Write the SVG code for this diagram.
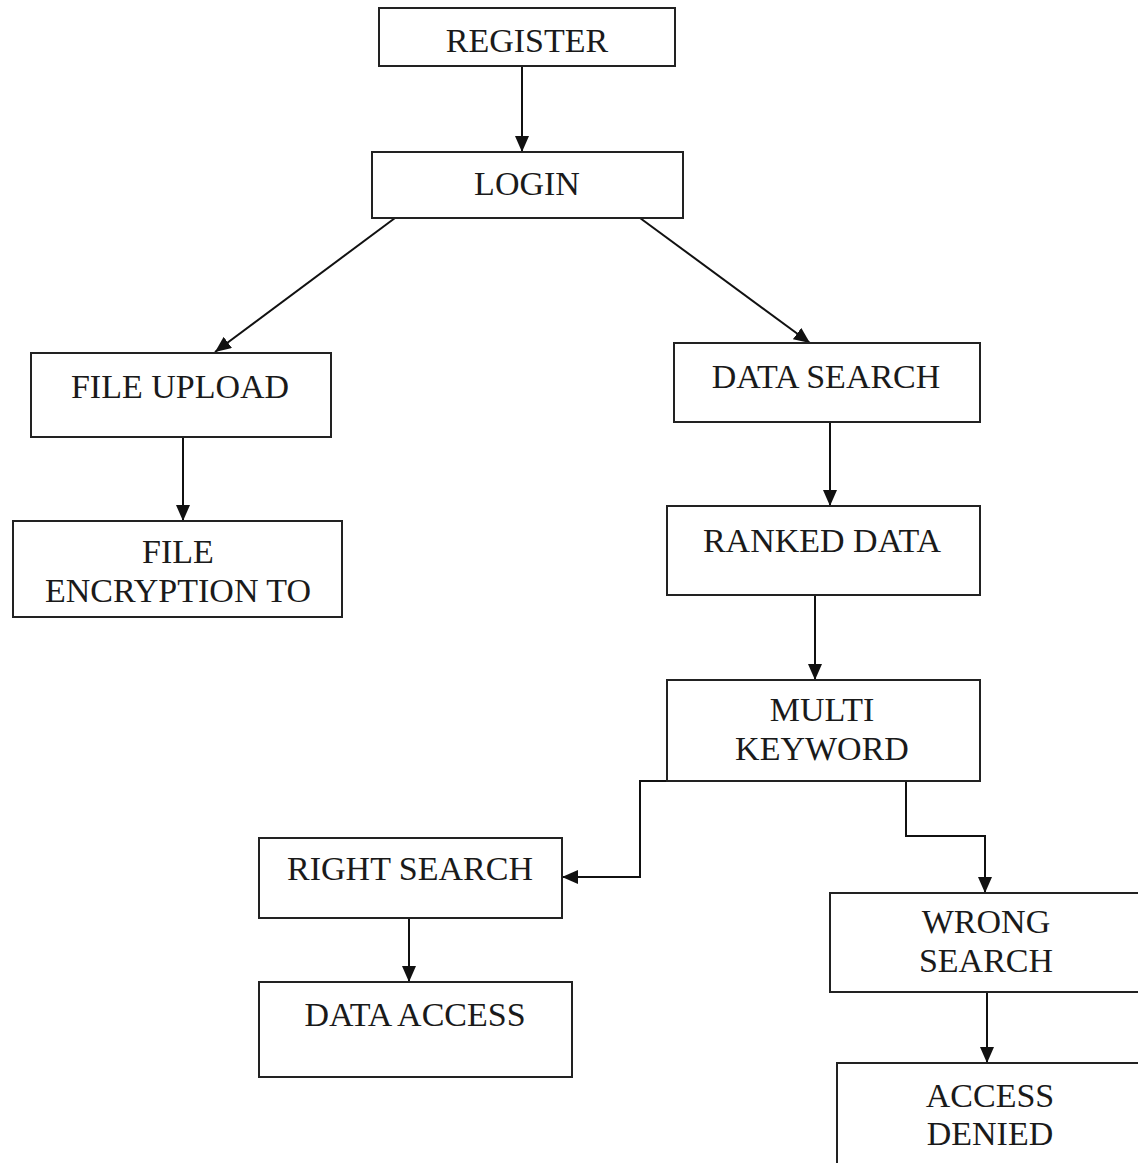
<svg xmlns="http://www.w3.org/2000/svg" width="1138" height="1163" viewBox="0 0 1138 1163">
<style>
.box{fill:#fff;stroke:#222;stroke-width:2}
.lbl{font-family:"Liberation Serif","Times New Roman",serif;font-size:34px;fill:#1a1a1a;text-anchor:middle}
.edge{fill:none;stroke:#111;stroke-width:2}
</style>
<defs>
<marker id="arr" markerWidth="16" markerHeight="14" refX="16" refY="7" orient="auto" markerUnits="userSpaceOnUse">
<path d="M0,0 L16,7 L0,14 Z" fill="#111"/>
</marker>
</defs>
<rect width="1138" height="1163" fill="#fff"/>
<g id="connectors">
<line class="edge" x1="522" y1="66" x2="522" y2="152" marker-end="url(#arr)"/>
<line class="edge" x1="395" y1="218" x2="215" y2="352" marker-end="url(#arr)"/>
<line class="edge" x1="640" y1="218" x2="810" y2="343" marker-end="url(#arr)"/>
<line class="edge" x1="183" y1="437" x2="183" y2="521" marker-end="url(#arr)"/>
<line class="edge" x1="830" y1="422" x2="830" y2="506" marker-end="url(#arr)"/>
<line class="edge" x1="815" y1="595" x2="815" y2="680" marker-end="url(#arr)"/>
<polyline class="edge" points="715,781 640,781 640,877 562,877" marker-end="url(#arr)"/>
<polyline class="edge" points="906,781 906,836 985,836 985,893" marker-end="url(#arr)"/>
<line class="edge" x1="409" y1="918" x2="409" y2="982" marker-end="url(#arr)"/>
<line class="edge" x1="987" y1="992" x2="987" y2="1063" marker-end="url(#arr)"/>
</g>
<g id="register"><rect class="box" x="379" y="8" width="296" height="58"/><text class="lbl" x="527" y="52">REGISTER</text></g>
<g id="login"><rect class="box" x="372" y="152" width="311" height="66"/><text class="lbl" x="527" y="195">LOGIN</text></g>
<g id="file-upload"><rect class="box" x="31" y="353" width="300" height="84"/><text class="lbl" x="180" y="398">FILE UPLOAD</text></g>
<g id="file-encryption"><rect class="box" x="13" y="521" width="329" height="96"/><text class="lbl" x="178" y="563">FILE</text><text class="lbl" x="178" y="602">ENCRYPTION TO</text></g>
<g id="data-search"><rect class="box" x="674" y="343" width="306" height="79"/><text class="lbl" x="826" y="388">DATA SEARCH</text></g>
<g id="ranked-data"><rect class="box" x="667" y="506" width="313" height="89"/><text class="lbl" x="822" y="552">RANKED DATA</text></g>
<g id="multi-keyword"><rect class="box" x="667" y="680" width="313" height="101"/><text class="lbl" x="822" y="721">MULTI</text><text class="lbl" x="822" y="760">KEYWORD</text></g>
<g id="right-search"><rect class="box" x="259" y="838" width="303" height="80"/><text class="lbl" x="410" y="880">RIGHT SEARCH</text></g>
<g id="data-access"><rect class="box" x="259" y="982" width="313" height="95"/><text class="lbl" x="415" y="1026">DATA ACCESS</text></g>
<g id="wrong-search"><rect class="box" x="830" y="893" width="320" height="99"/><text class="lbl" x="986" y="933">WRONG</text><text class="lbl" x="986" y="972">SEARCH</text></g>
<g id="access-denied"><rect class="box" x="837" y="1063" width="320" height="110"/><text class="lbl" x="990" y="1107">ACCESS</text><text class="lbl" x="990" y="1145">DENIED</text></g>
</svg>
